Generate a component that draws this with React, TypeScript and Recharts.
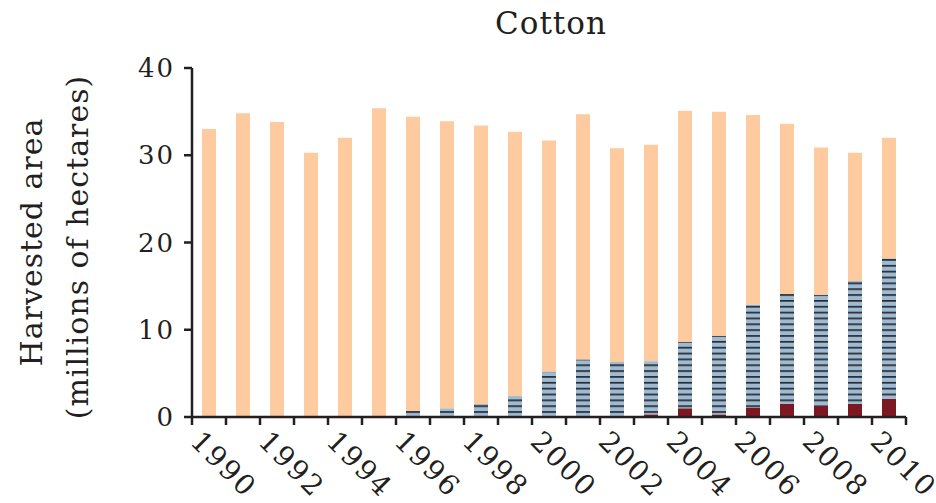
import { Bar, BarChart, XAxis, YAxis } from "recharts";

// harvested area, millions of hectares
const years = [
  "1990", "1991", "1992", "1993", "1994", "1995", "1996", "1997", "1998", "1999", "2000",
  "2001", "2002", "2003", "2004", "2005", "2006", "2007", "2008", "2009", "2010",
];
const totalArea = [
  33.0, 34.8, 33.8, 30.3, 32.0, 35.4, 34.4, 33.9, 33.4, 32.7, 31.7,
  34.7, 30.8, 31.2, 35.1, 35.0, 34.6, 33.6, 30.9, 30.3, 32.0,
];
const stripedArea = [
  0, 0, 0, 0, 0, 0, 0.7, 1.0, 1.5, 2.4, 5.2,
  6.6, 6.2, 6.1, 7.6, 9.0, 11.8, 12.6, 12.7, 14.1, 16.1,
];
const redArea = [
  0, 0, 0, 0, 0, 0, 0, 0, 0, 0, 0,
  0, 0.1, 0.3, 1.0, 0.3, 1.1, 1.5, 1.3, 1.5, 2.1,
];
const yTicks = [0, 10, 20, 30, 40];

const data = years.map((year, i) => ({
  year,
  red: redArea[i],
  striped: stripedArea[i],
  rest: +(totalArea[i] - stripedArea[i] - redArea[i]).toFixed(2),
}));

const W = 936;
const H = 503;
const LEFT = 192;
const RIGHT = 30;
const FONT = "'DejaVu Serif', 'Liberation Serif', serif";
const INK = "#231f20";

function YearTick(props: any) {
  const { x, y, index } = props;
  const half = (W - LEFT - RIGHT) / years.length / 2;
  const year = years[index];
  const lx = x - 20;
  const ly = y + 26;
  return (
    <g>
      <line x1={x - half} y1={y} x2={x - half} y2={y + 8} stroke={INK} strokeWidth={2.5} />
      {index === years.length - 1 && (
        <line x1={x + half} y1={y} x2={x + half} y2={y + 8} stroke={INK} strokeWidth={2.5} />
      )}
      {Number(year) % 2 === 0 && (
        <text
          x={lx}
          y={ly}
          transform={`rotate(45, ${lx}, ${ly})`}
          textAnchor="start"
          fontFamily={FONT}
          fontSize={28}
          letterSpacing={2}
          fill={INK}
        >
          {year}
        </text>
      )}
    </g>
  );
}

function YTitle() {
  return (
    <g fontFamily={FONT} fontSize={30} letterSpacing={1} fill={INK} textAnchor="middle">
      <text transform="translate(42, 242) rotate(-90)">Harvested area</text>
      <text transform="translate(88, 247) rotate(-90)">(millions of hectares)</text>
    </g>
  );
}

export default function App() {
  return (
    <div style={{ position: "absolute", left: 0, top: 0, width: W, height: H, background: "#fff" }}>
      <div
        style={{
          position: "absolute",
          left: 0,
          top: 5,
          width: 1102,
          textAlign: "center",
          fontFamily: FONT,
          fontSize: 31,
          color: INK,
          letterSpacing: 1,
        }}
      >
        Cotton
      </div>
      <BarChart width={W} height={H} data={data} margin={{ top: 68, right: RIGHT, bottom: 6, left: 0 }} barSize={14}>
        <defs>
          <pattern id="stripes" patternUnits="userSpaceOnUse" width={8} height={5.85} y={417}>
            <rect x={0} y={0} width={8} height={5.85} fill="#9dbbd4" />
            <rect x={0} y={0} width={8} height={1.7} fill="#2b2b2b" />
          </pattern>
        </defs>
        <XAxis
          dataKey="year"
          height={80}
          interval={0}
          tickLine={false}
          tickSize={0}
          tickMargin={0}
          axisLine={{ stroke: INK, strokeWidth: 2.5 }}
          tick={<YearTick />}
        />
        <YAxis
          width={LEFT}
          domain={[0, 40]}
          ticks={yTicks}
          tickSize={8}
          tickMargin={9}
          axisLine={{ stroke: INK, strokeWidth: 2.5 }}
          tickLine={{ stroke: INK, strokeWidth: 2.5 }}
          tick={{ fontFamily: FONT, fontSize: 26, letterSpacing: 2, fill: INK }}
          label={{ content: () => <YTitle /> }}
        />
        <Bar dataKey="red" stackId="a" fill="#7b1822" isAnimationActive={false} />
        <Bar dataKey="striped" stackId="a" fill="url(#stripes)" isAnimationActive={false} />
        <Bar dataKey="rest" stackId="a" fill="#fdcb9f" isAnimationActive={false} />
      </BarChart>
    </div>
  );
}
